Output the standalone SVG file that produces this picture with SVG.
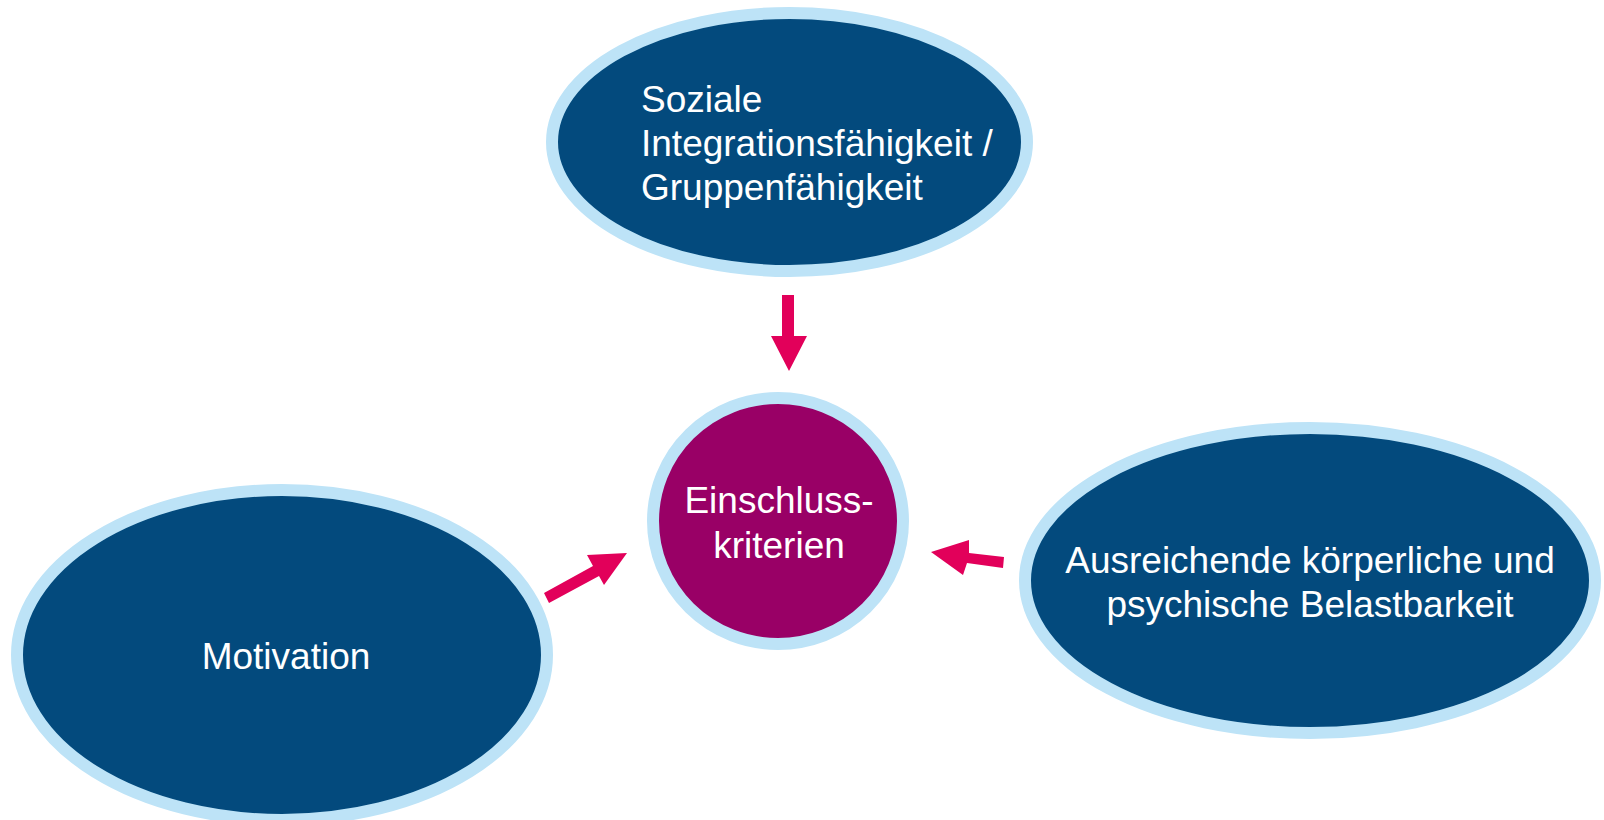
<svg xmlns="http://www.w3.org/2000/svg" width="1604" height="820" viewBox="0 0 1604 820">
  <style>
    .node { fill: #034a7d; stroke: #bde3f7; stroke-width: 12; }
    .core { fill: #990066; stroke: #bde3f7; stroke-width: 12; }
    .label { fill: #ffffff; font-family: "Liberation Sans", Arial, sans-serif; font-size: 37px; }
    .mid { text-anchor: middle; }
    .arrow { fill: #e2005a; }
  </style>
  <rect width="1604" height="820" fill="#ffffff"/>

  <g id="node-soziale">
    <ellipse class="node" cx="789.5" cy="142" rx="237.5" ry="129"/>
    <text class="label" x="641" y="112">Soziale</text>
    <text class="label" x="641" y="156">Integrationsfähigkeit /</text>
    <text class="label" x="641" y="200">Gruppenfähigkeit</text>
  </g>

  <g id="node-einschluss">
    <ellipse class="core" cx="778" cy="521" rx="125" ry="123"/>
    <text class="label mid" x="779" y="513">Einschluss-</text>
    <text class="label mid" x="779" y="558">kriterien</text>
  </g>

  <g id="node-motivation">
    <ellipse class="node" cx="282" cy="655" rx="265" ry="165"/>
    <text class="label mid" x="286" y="669">Motivation</text>
  </g>

  <g id="node-belastbarkeit">
    <ellipse class="node" cx="1310" cy="580.5" rx="285" ry="152.5"/>
    <text class="label mid" x="1310" y="573">Ausreichende körperliche und</text>
    <text class="label mid" x="1310" y="617">psychische Belastbarkeit</text>
  </g>

  <g id="connectors">
    <polygon class="arrow" points="782,295 794,295 794,336 807,336 789,371 771,336 782,336"/>
    <polygon class="arrow" points="544,593 593,566 587,555 627,553 604,585 599,576 549,603"/>
    <polygon class="arrow" points="1004,557 969,553 969,540 931,552 963,575 967,563 1003,568"/>
  </g>
</svg>
